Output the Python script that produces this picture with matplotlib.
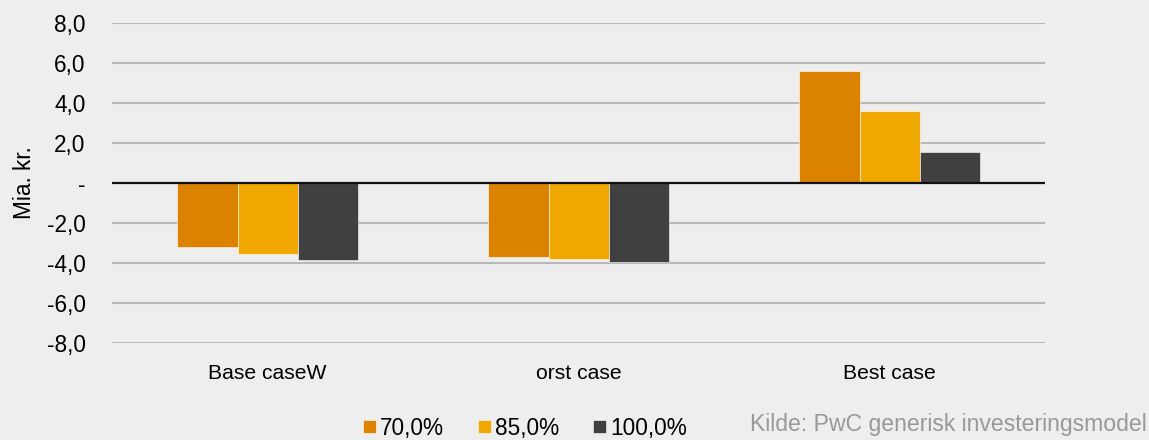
import matplotlib.pyplot as plt
import numpy as np

plt.rcParams['font.family'] = ['Liberation Sans', 'DejaVu Sans']

categories = ["Base caseW", "orst case", "Best case"]
series_names = ["70,0%", "85,0%", "100,0%"]
values = [
    [-3.18, -3.68, 5.6],    # 70,0%
    [-3.53, -3.80, 3.6],    # 85,0%
    [-3.85, -3.95, 1.53],   # 100,0%
]
colors = ["#DB8200", "#F0A800", "#404040"]
yticks = [-8, -6, -4, -2, 0, 2, 4, 6, 8]

bg = "#EEEEEE"
fig = plt.figure(figsize=(11.49, 4.4), dpi=100, facecolor=bg)
ax = fig.add_axes([0.0975, 0.2205, 0.812, 0.7272], facecolor=bg)

x = np.arange(len(categories))
w = 0.193
for i, (name, vals) in enumerate(zip(series_names, values)):
    ax.bar(x + (i - 1) * w, vals, width=w, color=colors[i], label=name,
           edgecolor="#FFFFFF", linewidth=0.4, zorder=3)

ax.set_xlim(-0.5, 2.5)
ax.set_ylim(-8, 8)
ax.set_yticks(yticks)
ax.set_yticklabels(["-" if v == 0 else ("%.1f" % v).replace(".", ",") for v in yticks])
ax.yaxis.grid(True, color="#B8B8B8", linewidth=1.5, zorder=0)
ax.axhline(0, color="#111111", linewidth=1.6, zorder=4)
for s in ax.spines.values():
    s.set_visible(False)
ax.set_xticks(x)
ax.set_xticklabels(categories, fontsize=15.2)
ax.tick_params(axis="x", length=0, pad=15)
ax.tick_params(axis="y", length=0, pad=19, labelsize=16.3)
ax.set_ylabel("Mia. kr.", fontsize=16.3, labelpad=8)

fig.legend(loc="center", bbox_to_anchor=(0.457, 0.027), ncol=3, frameon=False,
           fontsize=16.3, handlelength=0.55, handleheight=0.55, handletextpad=0.2,
           columnspacing=1.5, borderpad=0)
fig.text(0.998, 0.035, "Kilde: PwC generisk investeringsmodel", ha="right",
         va="center", fontsize=16.6, color="#999999")

plt.savefig("out.png", dpi=100, facecolor=bg)
plt.close()
